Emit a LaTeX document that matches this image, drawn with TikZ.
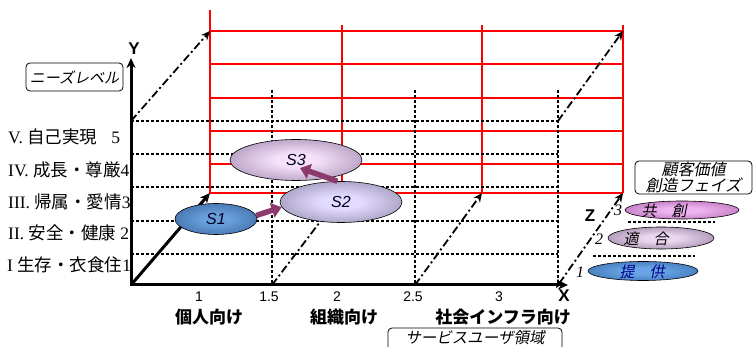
\documentclass[tikz,border=0pt]{standalone}
\usepackage{fontspec}
\setmainfont{Liberation Serif}
\newfontfamily\jp{Noto Sans CJK JP}
\newfontfamily\jpit[FakeSlant=0.2]{Noto Sans CJK JP}
\newfontfamily\arial{Liberation Sans}
\usetikzlibrary{shapes.geometric,arrows.meta}
\definecolor{plum}{RGB}{140,58,110}
\definecolor{sAin}{RGB}{105,160,220}\definecolor{sAout}{RGB}{30,68,125}
\definecolor{sBin}{RGB}{228,220,255}\definecolor{sBout}{RGB}{95,90,125}
\definecolor{sCin}{RGB}{245,225,250}\definecolor{sCout}{RGB}{110,80,130}
\definecolor{pCin}{RGB}{238,180,238}\definecolor{pCout}{RGB}{150,60,150}
\definecolor{pBin}{RGB}{235,215,240}\definecolor{pBout}{RGB}{100,75,115}
\definecolor{pAin}{RGB}{105,165,228}\definecolor{pAout}{RGB}{30,78,145}
\pgfdeclareradialshading{shA}{\pgfpointorigin}{color(0bp)=(sAin); color(8bp)=(sAin); color(50bp)=(sAout)}
\pgfdeclareradialshading{shB}{\pgfpointorigin}{color(0bp)=(sBin); color(8bp)=(sBin); color(50bp)=(sBout)}
\pgfdeclareradialshading{shC}{\pgfpointorigin}{color(0bp)=(sCin); color(8bp)=(sCin); color(50bp)=(sCout)}
\pgfdeclareradialshading{phC}{\pgfpointorigin}{color(0bp)=(pCin); color(8bp)=(pCin); color(50bp)=(pCout)}
\pgfdeclareradialshading{phB}{\pgfpointorigin}{color(0bp)=(pBin); color(8bp)=(pBin); color(50bp)=(pBout)}
\pgfdeclareradialshading{phA}{\pgfpointorigin}{color(0bp)=(pAin); color(8bp)=(pAin); color(50bp)=(pAout)}
\newcommand{\cjkl}[1]{{\jp\fontsize{17.5}{17.5}\selectfont #1}}
\begin{document}
\begin{tikzpicture}[x=1pt,y=-1pt,
  redgrid/.style={draw=red, line width=1.4pt},
  griddash/.style={draw=black, line width=1.4pt, dash pattern=on 3pt off 2pt},
  dashdot/.style={draw=black, line width=1.8pt, dash pattern=on 8pt off 3pt on 2pt off 3pt, -{Stealth[length=9pt,width=8pt]}},
  axisline/.style={draw=black, line width=3pt, -{Stealth[length=10pt,width=9pt]}},
  ell/.style={ellipse, draw=black, line width=0.6pt, inner sep=0pt},
  phasearrow/.style={draw=plum, line width=5.5pt, -{Triangle[length=10pt,width=15pt]}},
  labbox/.style={draw=black, line width=0.8pt, rounded corners=4pt, inner sep=0pt, fill=white},
  lvl/.style={anchor=west, inner sep=0pt, font=\fontsize{17.5}{17.5}\selectfont},
  axlab/.style={inner sep=0pt, font=\arial\bfseries\fontsize{17}{17}\selectfont},
  num/.style={inner sep=0pt, font=\arial\fontsize{14}{14}\selectfont},
  cat/.style={inner sep=0pt, font=\jp\bfseries\fontsize{17}{17}\selectfont},
  slab/.style={inner sep=0pt, font=\arial\itshape\fontsize{16}{16}\selectfont, text=black!85!blue},
  phtext/.style={inner sep=0pt, font=\jpit\fontsize{15}{15}\selectfont},
  znum/.style={inner sep=0pt, font=\itshape\fontsize{16}{16}\selectfont},
]
\useasboundingbox (0,0) rectangle (753,347);
% red back grid
\foreach \y in {31,64,98,131,164,193} \draw[redgrid] (210,\y) -- (623,\y);
\draw[redgrid] (210,10) -- (210,193);
\foreach \x in {342,482,623} \draw[redgrid] (\x,25) -- (\x,193);
% black dashed front grid
\foreach \y in {121,154,187,221,254} \draw[griddash] (131,\y) -- (558,\y);
\foreach \x in {272,415,558} \draw[griddash] (\x,90) -- (\x,285);
% coordinates
\coordinate (O) at (131,285);
\coordinate (Ytop) at (131,58);
\coordinate (Xend) at (568,285);
\coordinate (Y5) at (131,121);
\coordinate (B1) at (210,31);
\coordinate (X5) at (558,121);
\coordinate (B2) at (623,31);
\coordinate (Bo) at (210,193);
\coordinate (F15) at (272,285);
\coordinate (Bm1) at (342,193);
\coordinate (F25) at (415,285);
\coordinate (Bm2) at (482,193);
\coordinate (Zt) at (623,193);
\coordinate (Zb) at (556,288);
% depth arrows
\draw[dashdot] (Y5) -- (B1);
\draw[dashdot] (X5) -- (B2);
\draw[dashdot] (F15) -- (Bm1);
\draw[dashdot] (F25) -- (Bm2);
\draw[dashdot, {Stealth[length=9pt,width=8pt]}-{Stealth[length=9pt,width=8pt]}] (Zb) -- (Zt);
\draw[axisline] (O) -- (Bo);
% axes
\draw[axisline] ([yshift=-1.5pt]O) -- (Ytop);
\draw[axisline] ([xshift=-1.5pt]O) -- (Xend);
\node[axlab] (ylab) at (134,49) {Y};
\node[axlab] (xlab) at (564,296) {X};
\node[axlab] (zlab) at (590,216) {Z};
% level labels
\node[lvl] (L5) at (8,137) {V. \cjkl{自己実現}\hspace{0.8em}5};
\node[lvl] (L4) at (8,170) {IV. \cjkl{成長・尊厳}4};
\node[lvl] (L3) at (8,202) {III. \cjkl{帰属・愛情}3};
\node[lvl] (L2) at (8,233) {II. \cjkl{安全・健康} 2};
\node[lvl] (L1) at (7,265) {I \cjkl{生存・衣食住}1};
\node[labbox, minimum width=97pt, minimum height=28pt, font=\jpit\fontsize{15}{15}\selectfont] (needs) at (74.5,77) {ニーズレベル};
% x labels
\node[num] (n1) at (199,297) {1};
\node[num] (n15) at (269,297) {1.5};
\node[num] (n2) at (337,297) {2};
\node[num] (n25) at (413,297) {2.5};
\node[num] (n3) at (499,297) {3};
\node[cat] (c1) at (209,317) {個人向け};
\node[cat] (c2) at (344,317) {組織向け};
\node[cat] (c3) at (503,317) {社会インフラ向け};
\node[labbox, minimum width=174pt, minimum height=26pt] (users) at (475,341) {};
\node[inner sep=0pt, font=\jpit\fontsize{15.5}{15.5}\selectfont] (userst) at (475,337.5) {サービスユーザ領域};
% S ellipses
\node[ell, shading=shA, minimum width=82pt, minimum height=31pt] (S1) at (216,219) {};
\node[ell, shading=shB, minimum width=122pt, minimum height=41pt] (S2) at (341,202) {};
\node[ell, shading=shC, minimum width=132pt, minimum height=41pt] (S3) at (296,160) {};
\node[slab] (S1t) at (S1) {S1};
\node[slab] (S2t) at (S2) {S2};
\node[slab] (S3t) at (S3) {S3};
\coordinate (S3tip) at ([shift={(4pt,-8pt)}]S3.center);
\draw[phasearrow] (S1.5) -- (S2.185);
\draw[phasearrow] (S2.100) -- (S3tip);
% phase legend
\node[labbox, minimum width=117pt, minimum height=33pt, align=center, font=\jpit\fontsize{16}{16.5}\selectfont] (phase) at (693.5,177.5) {顧客価値\\創造フェイズ};
\node[ell, shading=phC, minimum width=114pt, minimum height=18pt] (P3) at (682,210) {};
\node[ell, shading=phB, minimum width=106pt, minimum height=22pt] (P2) at (661,238) {};
\node[ell, shading=phA, minimum width=110pt, minimum height=19pt] (P1) at (643,271) {};
\coordinate (d1a) at (628,222); \coordinate (d1b) at (715,222);
\coordinate (d2a) at (593,256); \coordinate (d2b) at (695,256);
\draw[griddash, line width=1.6pt] (d1a) -- (d1b);
\draw[griddash, line width=1.6pt] (d2a) -- (d2b);
\node[phtext] (P3t) at (664,211) {共　創};
\node[phtext] (P2t) at (646,239) {適　合};
\node[phtext, text=blue!55!black] (P1t) at (642,272) {提　供};
\node[znum] (z3) at (618,210) {3};
\node[znum] (z2) at (599,239) {2};
\node[znum] (z1) at (580,272) {1};
\end{tikzpicture}
\end{document}
